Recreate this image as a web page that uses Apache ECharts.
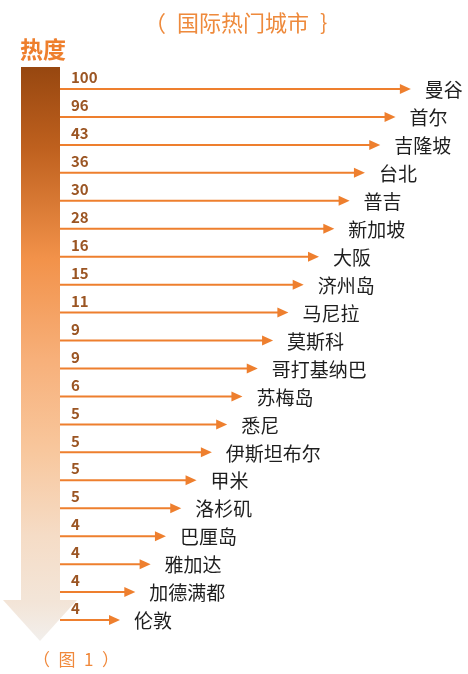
<!DOCTYPE html>
<html>
<head>
<meta charset="utf-8">
<script src="https://cdn.jsdelivr.net/npm/echarts@6/dist/echarts.min.js"></script>
<style>html,body{margin:0;padding:0;background:#fff;}#c{width:468px;height:674px;}</style>
</head>
<body>
<div id="c"></div>
<script>
var cities = ['曼谷','首尔','吉隆坡','台北','普吉','新加坡','大阪','济州岛','马尼拉','莫斯科','哥打基纳巴','苏梅岛','悉尼','伊斯坦布尔','甲米','洛杉矶','巴厘岛','雅加达','加德满都','伦敦'];
var heat = [100,96,43,36,30,28,16,15,11,9,9,6,5,5,5,5,4,4,4,4];
var titleText = '（\u2002国际热门城市\u2002｝';
var axisName = '热度';
var caption = '（\u2002图\u20021\u2002）';

var FONT = '"Noto Sans CJK SC", "Noto Sans", sans-serif';
var N = cities.length;
// arrow length follows the rank order shown in the picture
var data = cities.map(function (c, i) { return [(N - i) + 2.92, i, heat[i]]; });

var chart = echarts.init(document.getElementById('c'));
chart.setOption({
  backgroundColor: '#fff',
  animation: false,
  grid: { left: 60, right: 10, top: 75, height: 559 },
  xAxis: { type: 'value', min: 0, max: 26, show: false },
  yAxis: { type: 'category', data: cities, inverse: true, show: false },
  graphic: [
    { type: 'rect', shape: { x: 21, y: 67, width: 39, height: 533 }, z: 1,
      style: { fill: new echarts.graphic.LinearGradient(0, 0, 0, 1, [
        { offset: 0, color: '#974710' }, { offset: 0.15, color: '#BE601E' },
        { offset: 0.36, color: '#F2924A' }, { offset: 0.55, color: '#F7B07A' },
        { offset: 0.72, color: '#F8C79D' }, { offset: 0.88, color: '#F5DCC6' },
        { offset: 1, color: '#F3E5D8' }]) } },
    { type: 'polygon', shape: { points: [[3, 600], [77, 600], [40, 641]] }, z: 1,
      style: { fill: new echarts.graphic.LinearGradient(0, 0, 0, 1, [
        { offset: 0, color: '#F3E4D6' }, { offset: 1, color: '#F2EFEC' }]) } },
    { type: 'text', left: 20, top: 38, z: 5,
      style: { text: axisName, font: 'bold 23px ' + FONT, fill: '#EE7F2D' } },
    { type: 'text', x: 243, y: 23, z: 5,
      style: { text: titleText, font: '22px ' + FONT, fill: '#EE8A3C', align: 'center', verticalAlign: 'middle' } },
    { type: 'text', x: 76, y: 660, z: 5,
      style: { text: caption, font: '17px ' + FONT, fill: '#F0883A', align: 'center', verticalAlign: 'middle' } }
  ],
  series: [{
    type: 'custom',
    data: data,
    encode: { x: 0, y: 1 },
    renderItem: function (params, api) {
      var i = api.value(1);
      var s = api.coord([0, i]);
      var e = api.coord([api.value(0), i]);
      var y = s[1];
      var headL = 11, headH = 5;
      return {
        type: 'group',
        children: [
          { type: 'line', shape: { x1: s[0], y1: y, x2: e[0] - headL + 1, y2: y },
            style: { stroke: '#EE7F2E', lineWidth: 2 } },
          { type: 'polygon', shape: { points: [[e[0] - headL, y - headH], [e[0], y], [e[0] - headL, y + headH]] },
            style: { fill: '#EE7F2E' } },
          { type: 'text', x: s[0] + 11, y: y - 11.5,
            style: { text: String(api.value(2)), font: 'bold 15px ' + FONT, fill: '#9B5523', align: 'left', verticalAlign: 'middle' } },
          { type: 'text', x: e[0] + 14, y: y + 1,
            style: { text: cities[i], font: '19px ' + FONT, fill: '#1E1E1E', align: 'left', verticalAlign: 'middle' } }
        ]
      };
    }
  }]
});
</script>
</body>
</html>
